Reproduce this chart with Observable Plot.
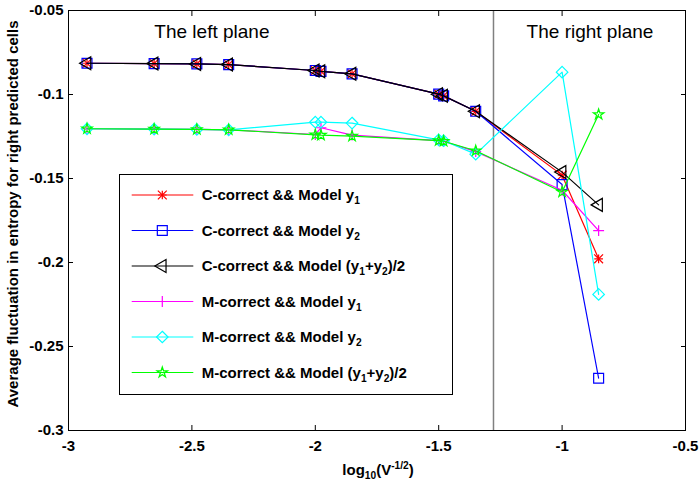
<!DOCTYPE html>
<html><head><meta charset="utf-8">
<script src="https://cdn.jsdelivr.net/npm/d3@7"></script>
<script src="https://cdn.jsdelivr.net/npm/@observablehq/plot@0.6"></script>
<style>
body{margin:0;background:#fff}
#chart{position:relative;width:699px;height:488px}
</style>
</head><body><div id="chart"></div>
<script>
// ---- data ----
const xValues = [-2.925, -2.653, -2.48, -2.351, -2.0, -1.977, -1.851, -1.5, -1.48, -1.35, -1.0, -0.852];
const cY1  = [-0.0814, -0.0816, -0.0818, -0.0822, -0.0857, -0.0862, -0.0877, -0.0998, -0.1008, -0.1100, -0.1480, -0.1978];
const cY2  = [-0.0814, -0.0816, -0.0818, -0.0822, -0.0857, -0.0862, -0.0877, -0.0998, -0.1008, -0.1100, -0.1536, -0.2689];
const cAvg = [-0.0814, -0.0816, -0.0818, -0.0822, -0.0857, -0.0862, -0.0877, -0.0998, -0.1008, -0.1100, -0.1462, -0.1657];
const mY1  = [-0.1204, -0.1206, -0.1208, -0.1210, -0.1238, -0.1198, -0.1242, -0.1274, -0.1278, -0.1340, -0.1570, -0.1810];
const mY2  = [-0.1204, -0.1206, -0.1208, -0.1210, -0.1165, -0.1165, -0.1170, -0.1270, -0.1275, -0.1355, -0.0867, -0.2190];
const mAvg = [-0.1204, -0.1206, -0.1208, -0.1210, -0.1240, -0.1242, -0.1248, -0.1274, -0.1278, -0.1335, -0.1580, -0.1119];

const seriesLabels = [
  "C-correct && Model y_1",
  "C-correct && Model y_2",
  "C-correct && Model (y_1+y_2)/2",
  "M-correct && Model y_1",
  "M-correct && Model y_2",
  "M-correct && Model (y_1+y_2)/2"
];
const seriesValues = [cY1, cY2, cAvg, mY1, mY2, mAvg];
const seriesColors = ["#ff0000", "#0000ff", "#000000", "#ff00ff", "#00ffff", "#00ff00"];
const seriesSymbols = ["asterisk", "square", "triangle", "plus", "diamond2", "star"];

const xTicks = [-3, -2.5, -2, -1.5, -1, -0.5];
const yTicks = [-0.3, -0.25, -0.2, -0.15, -0.1, -0.05];
const planeDivider = [-1.278];
const planeLabels = [
  {text: "The left plane", x: -2.419, y: -0.0665},
  {text: "The right plane", x: -0.887, y: -0.0665}
];
const xTitle = [["log", ""], ["10", "sub"], ["(V", ""], ["-1/2", "sup"], [")", ""]];
const yTitle = "Average fluctuation in entropy for right predicted cells";

// ---- marker geometry ----
const markerR = {asterisk: 4.1, square: 5.6, triangle: 4.8, plus: 3.6, diamond2: 5.2, star: 3.3};
const rotateOf = s => s === "triangle" ? -90 : 0;

function dotMarks(data, sym, color) {
  if (sym === "asterisk") {
    return [
      Plot.dot(data, {x: "x", y: "y", symbol: "plus", r: 2.9, stroke: color, fill: "none", strokeWidth: 1.2}),
      Plot.dot(data, {x: "x", y: "y", symbol: "times", r: 4.1, stroke: color, fill: "none", strokeWidth: 1.2})
    ];
  }
  return [Plot.dot(data, {x: "x", y: "y", symbol: sym, r: markerR[sym], rotate: rotateOf(sym), stroke: color, fill: "none", strokeWidth: 1.2})];
}

const seriesMarks = [];
seriesValues.forEach((vals, i) => {
  const data = xValues.map((x, j) => ({x, y: vals[j]}));
  seriesMarks.push(Plot.line(data, {x: "x", y: "y", stroke: seriesColors[i], strokeWidth: 1.2}));
  seriesMarks.push(...dotMarks(data, seriesSymbols[i], seriesColors[i]));
});

const fmt = d => String(d);
const FONT = "'Liberation Sans', Arial, Helvetica, sans-serif";

const svgNode = Plot.plot({
  width: 699, height: 488,
  marginLeft: 68, marginRight: 14, marginTop: 10, marginBottom: 58,
  style: {fontFamily: FONT, fontSize: "15px", fontWeight: "bold", background: "white", color: "black"},
  x: {domain: [-3, -0.5]},
  y: {domain: [-0.3, -0.05]},
  marks: [
    Plot.ruleX(planeDivider, {stroke: "#808080", strokeWidth: 1.5}),
    Plot.axisX({ticks: xTicks, tickSize: -5, tickPadding: 15, tickFormat: fmt, label: null, fontSize: 15}),
    Plot.axisX({anchor: "top", ticks: xTicks, tickSize: -5, tickFormat: () => "", label: null}),
    Plot.axisY({ticks: yTicks, tickSize: -5, tickPadding: 10, tickFormat: fmt, label: null, fontSize: 15}),
    Plot.axisY({anchor: "right", ticks: yTicks, tickSize: -5, tickFormat: () => "", label: null}),
    ...seriesMarks,
    Plot.text(planeLabels, {x: "x", y: "y", text: "text", fontSize: 19, fontWeight: "normal", lineAnchor: "bottom", fill: "black"}),
    Plot.frame({stroke: "black"})
  ]
});
document.getElementById("chart").appendChild(svgNode);

// ---- titles and legend ----
const svg = d3.select(svgNode);

function addRich(textSel, parts, base) {
  let shift = 0;
  parts.forEach(([t, kind]) => {
    const span = textSel.append("tspan").text(t);
    let target = kind === "sub" ? 4 : kind === "sup" ? -6 : 0;
    span.attr("dy", target - shift);
    shift = target;
    if (kind) span.attr("font-size", base * 0.68);
  });
}
function parseLabel(s) {
  const parts = [];
  let buf = "";
  for (let i = 0; i < s.length; i++) {
    if (s[i] === "_") { if (buf) parts.push([buf, ""]); buf = ""; parts.push([s[i + 1], "sub"]); i++; }
    else buf += s[i];
  }
  if (buf) parts.push([buf, ""]);
  return parts;
}

// x title
const xt = svg.append("text").attr("x", 378).attr("y", 475).attr("text-anchor", "middle")
  .attr("font-family", FONT).attr("font-size", 15).attr("font-weight", "bold").attr("fill", "black");
addRich(xt, xTitle, 15);

// y title
svg.append("text").attr("transform", "translate(17.5,214) rotate(-90)").attr("text-anchor", "middle")
  .attr("font-family", FONT).attr("font-size", 15).attr("font-weight", "bold").attr("fill", "black")
  .text(yTitle);

// legend
const lg = svg.append("g");
const lgX = 119.5, lgY = 174.5, lgW = 333, lgH = 220, row0 = 195, rowStep = 35.5;
lg.append("rect").attr("x", lgX).attr("y", lgY).attr("width", lgW).attr("height", lgH)
  .attr("fill", "white").attr("stroke", "black").attr("stroke-width", 1);
const d3Sym = {square: d3.symbolSquare, triangle: d3.symbolTriangle, plus: d3.symbolPlus, times: d3.symbolTimes, diamond2: d3.symbolDiamond2, star: d3.symbolStar};
seriesLabels.forEach((lab, i) => {
  const y = row0 + i * rowStep;
  const c = seriesColors[i], s = seriesSymbols[i];
  lg.append("line").attr("x1", 131.7).attr("x2", 193.3).attr("y1", y).attr("y2", y)
    .attr("stroke", c).attr("stroke-width", 1.2);
  const drawSym = (name, r, rot) => lg.append("path")
    .attr("d", d3.symbol(d3Sym[name], Math.PI * r * r)())
    .attr("transform", `translate(162.3,${y}) rotate(${rot})`)
    .attr("fill", "none").attr("stroke", c).attr("stroke-width", 1.2);
  if (s === "asterisk") { drawSym("plus", 2.9, 0); drawSym("times", 4.1, 0); }
  else drawSym(s, markerR[s], rotateOf(s));
  const t = lg.append("text").attr("x", 201.7).attr("y", y + 5.3).attr("text-anchor", "start")
    .attr("font-family", FONT).attr("font-size", 15).attr("font-weight", "bold").attr("fill", "black");
  addRich(t, parseLabel(lab), 15);
});
</script>
</body></html>
